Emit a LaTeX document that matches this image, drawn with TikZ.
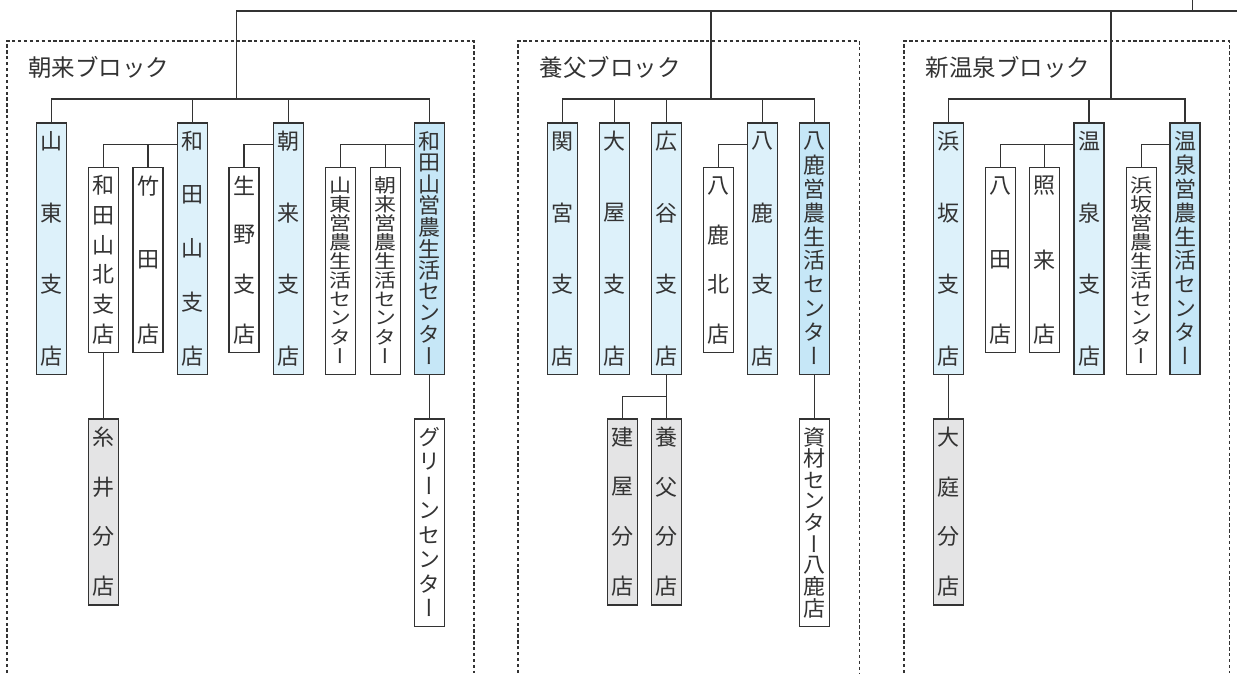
\documentclass[tikz,border=0pt]{standalone}
\usepackage{fontspec}
\usepackage{graphicx}
\setmainfont{Noto Sans CJK JP}
\newfontfamily\tatefont{Noto Sans CJK JP}[Script=CJK,RawFeature=+vert]
\usetikzlibrary{calc}
\definecolor{shitenblue}{HTML}{DDF1FA}
\definecolor{centerblue}{HTML}{C6E7F7}
\definecolor{buntengray}{HTML}{E4E4E5}
\definecolor{framegray}{HTML}{333333}

% box with vertical text, characters spread from top to bottom
\newcommand\tatebox[6]{%
  \node[#5, minimum height={(#4-#3)*1pt}, anchor=north] (#1) at (#2,#3) {};
  \foreach \ci [count=\nn] in {#6} {\xdef\nchr{\nn}}
  \pgfmathsetmacro\gap{(#4-#3-37)/(\nchr-1)}
  \pgfmathsetmacro\vs{min(1,\gap/22)}
  \foreach \ci [count=\nn] in {#6}
    \node[chr] at (#2,{#3+19+(\nn-1)*\gap}) {\scalebox{1}[\vs]{\ci}};
}

\begin{document}
\begin{tikzpicture}[x=1pt, y=-1pt,
					every node/.style={inner sep=0pt},
					tate/.style={draw=framegray, line width=1.3pt, minimum width=30pt},
					shiten/.style={tate, fill=shitenblue},
					center/.style={tate, fill=centerblue},
					mise/.style={tate, fill=white},
					bunten/.style={tate, fill=buntengray},
					chr/.style={text=framegray, font=\tatefont\fontsize{22pt}{22pt}\selectfont},
					blocktitle/.style={anchor=west, text=framegray, font=\fontsize{23.5pt}{23.5pt}\selectfont},
					block/.style={draw=framegray, line width=1.3pt, dash pattern=on 3.3pt off 2.6pt},
					link/.style={draw=framegray, line width=1.05pt}
				]
				\useasboundingbox (0,0) rectangle (1237,673);

				% blocks
				\draw[block] (7,673) |- (474,41) -- (474,673);
				\draw[block] (518,673) |- (859.3,41) -- (859.3,673);
				\draw[block] (904,673) |- (1229.3,41) -- (1229.3,673);
				\node[blocktitle] (asagoT) at (28,67) {朝来ブロック};
				\node[blocktitle] (yabuT) at (539.5,67) {養父ブロック};
				\node[blocktitle] (onsenT) at (925.5,67) {新温泉ブロック};

				\coordinate (rootTop) at (1192.7,0);
				\coordinate (rootJ) at (1192.7,11);
				\coordinate (rootEnd) at (1237,11);
				\coordinate (asagoHub) at (236.7,99);
				\coordinate (yabuHub) at (711,99);
				\coordinate (onsenHub) at (1111,99);

				% 朝来
				\tatebox{santo}{51.7}{122.3}{374}{shiten}{山,東,支,店}
				\tatebox{wadayama}{192.3}{122.3}{374}{shiten}{和,田,山,支,店}
				\tatebox{asago}{288.8}{122.3}{374}{shiten}{朝,来,支,店}
				\tatebox{wadayamaC}{429.7}{122.3}{374}{center}{和,田,山,営,農,生,活,セ,ン,タ,ー}
				\tatebox{wkita}{103.3}{166.7}{352}{mise}{和,田,山,北,支,店}
				\tatebox{takeda}{148}{166.7}{352}{mise}{竹,田,店}
				\tatebox{ikuno}{244}{166.7}{352}{mise}{生,野,支,店}
				\tatebox{santoC}{340.3}{166.7}{374}{mise}{山,東,営,農,生,活,セ,ン,タ,ー}
				\tatebox{asagoC}{385.3}{166.7}{374}{mise}{朝,来,営,農,生,活,セ,ン,タ,ー}
				\tatebox{itoi}{103.3}{418.3}{604.3}{bunten}{糸,井,分,店}
				\tatebox{green}{429.7}{418.3}{626}{mise}{グ,リ,ー,ン,セ,ン,タ,ー}

				% 養父
				\tatebox{sekinomiya}{562.7}{122.3}{374}{shiten}{関,宮,支,店}
				\tatebox{oya}{614.5}{122.3}{374}{shiten}{大,屋,支,店}
				\tatebox{hirotani}{666.7}{122.3}{374}{shiten}{広,谷,支,店}
				\tatebox{yoka}{762.7}{122.3}{374}{shiten}{八,鹿,支,店}
				\tatebox{yokaC}{814.7}{122.3}{374}{center}{八,鹿,営,農,生,活,セ,ン,タ,ー}
				\tatebox{yokakita}{718.3}{166.7}{352}{mise}{八,鹿,北,店}
				\tatebox{tateya}{622.3}{418.3}{604.3}{bunten}{建,屋,分,店}
				\tatebox{yabu}{666.7}{418.3}{604.3}{bunten}{養,父,分,店}
				\tatebox{shizai}{814.7}{418.3}{626}{mise}{資,材,セ,ン,タ,ー,八,鹿,店}

				% 新温泉
				\tatebox{hamasaka}{948.7}{122.3}{374}{shiten}{浜,坂,支,店}
				\tatebox{onsen}{1089}{122.3}{374}{shiten}{温,泉,支,店}
				\tatebox{onsenC}{1185}{122.3}{374}{center}{温,泉,営,農,生,活,セ,ン,タ,ー}
				\tatebox{hatta}{1000.2}{166.7}{352}{mise}{八,田,店}
				\tatebox{terugi}{1044.5}{166.7}{352}{mise}{照,来,店}
				\tatebox{hamasakaC}{1141.2}{166.7}{374}{mise}{浜,坂,営,農,生,活,セ,ン,タ,ー}
				\tatebox{oba}{948.7}{418.3}{604.3}{bunten}{大,庭,分,店}

				% connectors
				\draw[link] (rootTop) -- (rootJ) -- (rootEnd);
				\foreach \hub in {asagoHub,yabuHub,onsenHub}
					\draw[link] (rootJ) -| (\hub);
				\foreach \b in {santo,wadayama,asago,wadayamaC}
					\draw[link] (asagoHub) -| (\b.north);
				\foreach \b in {sekinomiya,oya,hirotani,yoka,yokaC}
					\draw[link] (yabuHub) -| (\b.north);
				\foreach \b in {hamasaka,onsen,onsenC}
					\draw[link] (onsenHub) -| (\b.north);

				\foreach \p/\c in {wadayama/wkita,wadayama/takeda,asago/ikuno,wadayamaC/santoC,wadayamaC/asagoC,
						yoka/yokakita,onsen/hatta,onsen/terugi,onsenC/hamasakaC}
					\draw[link] ([yshift=-22pt]\p.north west) -| (\c.north);

				\draw[link] (wkita.south) -- (itoi.north);
				\draw[link] (wadayamaC.south) -- (green.north);
				\draw[link] (hirotani.south) -- (yabu.north);
				\draw[link] (tateya.north) |- ($(hirotani.south)!.5!(yabu.north)$);
				\draw[link] (yokaC.south) -- (shizai.north);
				\draw[link] (hamasaka.south) -- (oba.north);
			\end{tikzpicture}
\end{document}
